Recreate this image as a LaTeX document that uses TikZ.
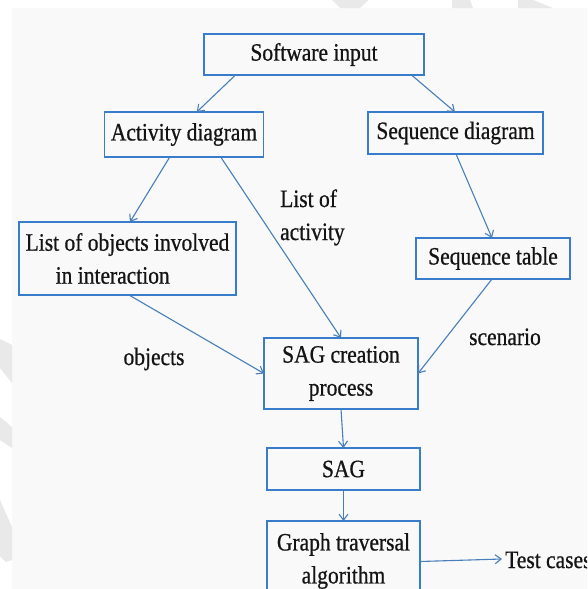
\documentclass[tikz,border=0pt]{standalone}
\usepackage{fontspec}
\setmainfont[FakeStretch=0.86,FakeBold=0.7]{Liberation Serif}
\usetikzlibrary{arrows.meta}
\definecolor{boxblue}{RGB}{58,124,204}
\definecolor{arrblue}{RGB}{72,126,186}
\definecolor{bggray}{RGB}{249,249,249}
\definecolor{wmgray}{RGB}{233,233,233}
\definecolor{txtcol}{RGB}{20,20,20}
\tikzset{
  box/.style={draw=boxblue, line width=1.4pt, fill=none, inner sep=0pt, outer sep=0pt,
    font=\fontsize{25}{33}\selectfont, text=txtcol, align=center},
  conn/.style={draw=arrblue, line width=1.1pt, -{Straight Barb[length=6pt,width=9pt,line width=1.1pt]}},
  lbl/.style={inner sep=0pt, text=txtcol, font=\fontsize{25}{33}\selectfont}
}
\begin{document}
\begin{tikzpicture}[x=1pt,y=-1pt]
\useasboundingbox (0,0) rectangle (587,589);
\clip (0,0) rectangle (587,589);
% background
\fill[white] (0,0) rectangle (587,589);
\fill[bggray] (12,8) rectangle (587,589);
% faint watermark fragments
\fill[wmgray] (332,0) -- (368,0) -- (360,8) -- (340,8) -- cycle;
\fill[wmgray] (452,0) -- (470,0) -- (473,8) -- (452,8) -- cycle;
\fill[wmgray] (518,0) -- (533,0) -- (553,8) -- (518,8) -- cycle;
\fill[wmgray] (0,339) -- (12,345) -- (12,383) -- (0,368) -- cycle;
\fill[wmgray] (0,417) -- (12,427) -- (12,448) -- (0,440) -- cycle;
\fill[wmgray] (0,500) -- (12,527) -- (12,560) -- (6,562) -- (0,556) -- cycle;

% boxes
\node[box, minimum width=220pt, minimum height=41pt] (sw) at (314,54.5) {Software input};
\node[box, minimum width=159.5pt, minimum height=45pt] (act) at (184,134.5) {Activity diagram};
\node[box, minimum width=175pt, minimum height=42pt] (seq) at (455.5,133) {Sequence diagram};
\node[box, minimum width=217pt, minimum height=73pt, align=left] (lst) at (127.5,258.5) {List of objects involved\\\hspace*{30pt}in interaction};
\node[box, minimum width=154pt, minimum height=41pt] (tab) at (493,258.5) {Sequence table};
\node[box, minimum width=154pt, minimum height=71pt] (sagc) at (341,373.5) {SAG creation\\process};
\node[box, minimum width=153pt, minimum height=42pt] (sag) at (343.5,469) {SAG};
\node[box, minimum width=153pt, minimum height=80pt] (gt) at (343.5,561) {Graph traversal\\algorithm};

% labels
\node[lbl, anchor=base west] (la1) at (280,207) {List of};
\node[lbl, anchor=base west] (la2) at (280,240) {activity};
\node[lbl, anchor=base] (lobj) at (154,365) {objects};
\node[lbl, anchor=base] (lscn) at (505,345) {scenario};
\node[lbl, anchor=base west] (ltc) at (505,568) {Test cases};
\coordinate (tcend) at (502,559);

% connectors
\draw[conn] ([xshift=31.5pt]sw.south west) -- ([xshift=92.5pt]act.north west);
\draw[conn] ([xshift=207.5pt]sw.south west) -- ([xshift=87pt]seq.north west);
\draw[conn] ([xshift=65.5pt]act.south west) -- ([xshift=111pt]lst.north west);
\draw[conn] ([xshift=116.5pt]act.south west) -- ([xshift=77pt]sagc.north west);
\draw[conn] ([xshift=88pt]seq.south west) -- ([xshift=76pt]tab.north west);
\draw[conn] ([xshift=110pt]lst.south west) -- (sagc.west);
\draw[conn] ([xshift=76pt]tab.south west) -- (sagc.east);
\draw[conn] (sagc.south) -- (sag.north);
\draw[conn] (sag.south) -- (gt.north);
\draw[conn] ([yshift=-0.5pt]gt.east) -- (tcend);
\end{tikzpicture}
\end{document}
